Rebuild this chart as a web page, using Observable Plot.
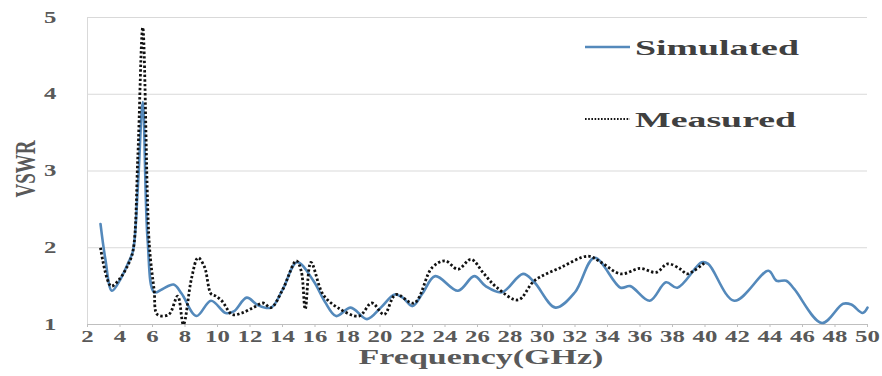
<!DOCTYPE html>
<html>
<head>
<meta charset="utf-8">
<script src="https://cdn.jsdelivr.net/npm/d3@7"></script>
<script src="https://cdn.jsdelivr.net/npm/@observablehq/plot@0.6"></script>
<style>
  html, body { margin: 0; padding: 0; background: #ffffff; }
  #chart svg { display: block; }
</style>
</head>
<body>
<div id="chart"></div>
<script>
// Simulated VSWR versus frequency (GHz)
const simFreq = [2.8, 3.1, 3.5, 4.0, 4.5, 4.8, 5.1, 5.4, 5.7, 6.1, 6.6, 7.3, 7.8, 8.7, 9.6, 10.5, 11.0, 11.8, 12.5, 13.3,
  14.0, 14.9, 15.9, 16.6, 17.3, 18.2, 19.2, 20.05, 20.9, 21.4, 22.0, 22.6, 23.4, 24.8, 25.8, 26.5, 27.5, 28.8, 29.5,
  30.8, 32.0, 33.2, 34.8, 35.4, 36.6, 37.6, 38.3, 39.8, 40.2, 41.8, 43.9, 44.4, 45.0, 45.5, 47.2, 48.5, 49.0, 49.7, 50.0];
const simVswr = [2.31, 1.85, 1.44, 1.58, 1.8, 1.96, 2.8, 3.9, 2.1, 1.42, 1.46, 1.52, 1.4, 1.11, 1.31, 1.15, 1.17, 1.35, 1.25, 1.22,
  1.45, 1.81, 1.57, 1.3, 1.11, 1.22, 1.07, 1.22, 1.39, 1.35, 1.24, 1.4, 1.63, 1.44, 1.63, 1.5, 1.42, 1.66, 1.55,
  1.22, 1.42, 1.87, 1.48, 1.5, 1.31, 1.55, 1.48, 1.81, 1.79, 1.31, 1.7, 1.57, 1.57, 1.46, 1.02, 1.27, 1.26, 1.15, 1.22];

// Measured VSWR versus frequency (GHz)
const measFreq = [2.8, 3.45, 4.0, 4.5, 4.8, 5.1, 5.4, 5.8, 6.1, 6.3, 7.0, 7.55, 7.9, 8.4, 8.8, 9.2, 9.6, 9.9, 10.3, 10.9,
  11.5, 12.2, 12.8, 13.3, 14.0, 14.85, 15.15, 15.4, 15.75, 16.5, 17.4, 18.7, 19.5, 20.25, 20.97, 22.1, 23.2, 24.0, 24.8,
  25.6, 26.4, 27.2, 28.5, 29.5, 31.1, 32.8, 33.6, 34.8, 36.0, 37.0, 37.7, 38.5, 38.9, 40.0];
const measVswr = [2.0, 1.5, 1.6, 1.78, 1.96, 3.2, 4.87, 2.05, 1.45, 1.13, 1.13, 1.37, 1.0, 1.6, 1.87, 1.75, 1.4, 1.37, 1.3, 1.13,
  1.15, 1.22, 1.28, 1.22, 1.45, 1.83, 1.7, 1.2, 1.81, 1.39, 1.22, 1.11, 1.28, 1.13, 1.39, 1.28, 1.74, 1.83, 1.72,
  1.85, 1.66, 1.48, 1.32, 1.57, 1.74, 1.89, 1.81, 1.66, 1.73, 1.68, 1.79, 1.72, 1.66, 1.81];

const xTicks = [2, 4, 6, 8, 10, 12, 14, 16, 18, 20, 22, 24, 26, 28, 30, 32, 34, 36, 38, 40, 42, 44, 46, 48, 50];
const yTicks = [1, 2, 3, 4, 5];
const seriesNames = ["Simulated", "Measured"];
const xTitle = "Frequency(GHz)";
const yTitle = "VSWR";

const simColor = "#5489bb";
const measColor = "#111111";
const textColor = "#595959";
const serif = "'Liberation Serif', 'Times New Roman', serif";

const simulated = simFreq.map((f, i) => ({f, v: simVswr[i]}));
const measured = measFreq.map((f, i) => ({f, v: measVswr[i]}));

const chart = Plot.plot({
  width: 882,
  height: 376,
  marginLeft: 87,
  marginRight: 15,
  marginTop: 17,
  marginBottom: 52,
  style: {background: "#ffffff", color: textColor, fontFamily: serif, fontWeight: "bold"},
  x: {domain: [2, 50]},
  y: {domain: [1, 5]},
  marks: [
    Plot.gridY(yTicks.slice(1), {stroke: "#d9d9d9", strokeOpacity: 1}),
    Plot.ruleX([2], {stroke: "#d9d9d9"}),
    Plot.ruleY([1], {stroke: "#bfbfbf"}),
    Plot.axisX({ticks: xTicks, tickSize: 3, tickPadding: 3, stroke: "#bfbfbf", fontSize: 16, label: null, tickFormat: d3.format("d")}),
    Plot.axisY({ticks: yTicks, tickSize: 0, tickPadding: 31, fontSize: 16, label: null, tickFormat: d3.format("d")}),
    Plot.line(simulated, {x: "f", y: "v", stroke: simColor, strokeWidth: 2.6, curve: "catmull-rom"}),
    Plot.line(measured, {x: "f", y: "v", stroke: measColor, strokeWidth: 2.8, strokeDasharray: "2.4 2.2",
      strokeLinecap: "butt", curve: "catmull-rom"})
  ]
});

// Widen the tick labels horizontally around their anchor points
d3.select(chart).selectAll("text").each(function () {
  const t = this.getAttribute("transform") || "";
  this.setAttribute("transform", t + " scale(1.55,1)");
});

const svg = d3.select(chart);

// Axis titles
svg.append("text")
  .attr("transform", "translate(481,364) scale(1.62,1)")
  .attr("text-anchor", "middle")
  .attr("font-family", serif).attr("font-weight", "bold").attr("font-size", 21)
  .attr("fill", textColor)
  .text(xTitle);

svg.append("text")
  .attr("transform", "translate(35,169) rotate(-90) scale(1,1.6)")
  .attr("text-anchor", "middle")
  .attr("font-family", serif).attr("font-weight", "bold").attr("font-size", 19)
  .attr("fill", textColor)
  .text(yTitle);

// Legend
const legend = svg.append("g");
const legendRows = [
  {name: seriesNames[0], y: 47, stroke: simColor, dash: null, baseline: 55},
  {name: seriesNames[1], y: 119, stroke: measColor, dash: "1.6 1.6", baseline: 127}
];
legendRows.forEach(r => {
  legend.append("line")
    .attr("x1", 585).attr("x2", 630).attr("y1", r.y).attr("y2", r.y)
    .attr("stroke", r.stroke).attr("stroke-width", r.dash ? 1.8 : 2.6)
    .attr("stroke-dasharray", r.dash);
  legend.append("text")
    .attr("transform", `translate(635,${r.baseline}) scale(1.72,1)`)
    .attr("text-anchor", "start")
    .attr("font-family", serif).attr("font-weight", "bold").attr("font-size", 22)
    .attr("fill", "#404040")
    .text(r.name);
});

document.getElementById("chart").appendChild(chart);
</script>
</body>
</html>
